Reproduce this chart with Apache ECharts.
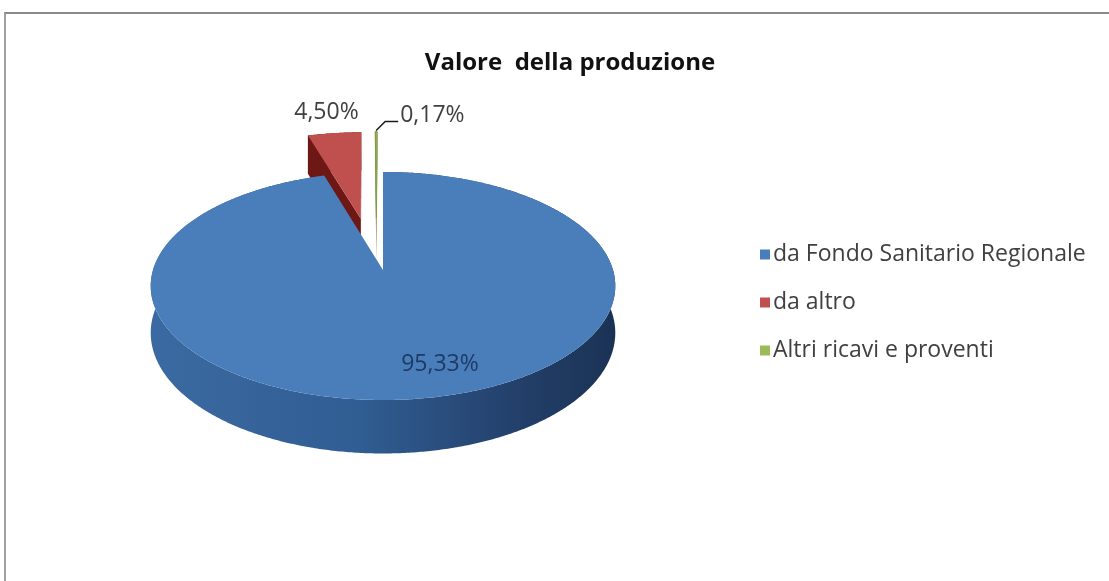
<!DOCTYPE html>
<html>
<head>
<meta charset="utf-8">
<script src="https://cdn.jsdelivr.net/npm/echarts@6/dist/echarts.min.js"></script>
<style>
  html, body { margin: 0; padding: 0; background: #ffffff; overflow: hidden; width: 1109px; height: 581px; }
  #frame {
    position: absolute; left: 4px; top: 12px; width: 1140px; height: 600px;
    border-top: 2px solid #8a8a8a; border-left: 2px solid #a0a0a0;
    box-sizing: border-box;
  }
  #chart { position: absolute; left: 0; top: 0; width: 1130px; height: 581px; }
</style>
</head>
<body>
<div id="frame"></div>
<div id="chart"></div>
<script>
// Revenue split (percent of the production value)
const categories = ['da Fondo Sanitario Regionale', 'da altro', 'Altri ricavi e proventi'];
const shares = [95.33, 4.50, 0.17];
const pulledOut = [false, true, true];

const topColors  = ['#4a7ebb', '#c0504d', '#9bbb59'];
const faceColors = ['#2f5a8e', '#6e1816', '#5f7a2c'];

// 3D pie geometry (screen pixels); angles clockwise from 12 o'clock
const PIE = {
  cx: 383, cy: 270, rx: 230, ry: 111.8,
  persp: 0.14, depth: 46,
  explode: 0.5, explodeTilt: -3.2
};

const total = shares.reduce((a, b) => a + b, 0);
const startAngles = [];
let acc = 0;
shares.forEach(v => { startAngles.push(acc / total * 360); acc += v; });

const rad = d => d * Math.PI / 180;

// project a point of the pie disc (radius r at angle a, plus in-plane offset) to the screen
function project(a, r, off, bottom) {
  const px = r * Math.sin(rad(a)) + off[0];
  const pz = r * Math.cos(rad(a)) + off[1];
  const v = -pz;
  const s = 1 / (1 - PIE.persp * v);
  return [PIE.cx + PIE.rx * px * s, PIE.cy + PIE.ry * v * s + (bottom ? PIE.depth * s : 0)];
}

function signedArea(pts) {
  let s = 0;
  for (let i = 0; i < pts.length; i++) {
    const p = pts[i], q = pts[(i + 1) % pts.length];
    s += p[0] * q[1] - q[0] * p[1];
  }
  return s;
}

const fmt = v => v.toFixed(2).replace('.', ',') + '%';

function renderSlice(params, api) {
  const i = params.seriesIndex;
  const value = api.value(0);
  const a0 = startAngles[i];
  const a1 = a0 + value / total * 360;
  const mid = (a0 + a1) / 2;
  let off = [0, 0];
  if (pulledOut[i]) {
    const d = mid + PIE.explodeTilt;
    off = [PIE.explode * Math.sin(rad(d)), PIE.explode * Math.cos(rad(d))];
  }
  const steps = Math.max(2, Math.ceil((a1 - a0) / 0.5));
  const topArc = [], botArc = [];
  for (let k = 0; k <= steps; k++) {
    const a = a0 + (a1 - a0) * k / steps;
    topArc.push(project(a, 1, off, false));
    botArc.push(project(a, 1, off, true));
  }
  const cTop = project(0, 0, off, false);
  const cBot = project(0, 0, off, true);
  const children = [];

  // outer wall
  children.push({
    type: 'polygon',
    shape: { points: topArc.concat(botArc.slice().reverse()) },
    style: {
      fill: i === 0 ? new echarts.graphic.LinearGradient(0, 0, 1, 0, [
        { offset: 0, color: '#3b6aa2' },
        { offset: 0.45, color: '#305d92' },
        { offset: 0.8, color: '#233f69' },
        { offset: 1, color: '#1a3254' }
      ]) : faceColors[i]
    }
  });

  // radial cut faces, only those turned towards the viewer
  const startFace = [cTop, topArc[0], botArc[0], cBot];
  const endFace = [cTop, topArc[topArc.length - 1], botArc[botArc.length - 1], cBot];
  if (signedArea(startFace) < -1) {
    children.push({ type: 'polygon', shape: { points: startFace }, style: { fill: faceColors[i] } });
  }
  if (signedArea(endFace) > 1) {
    children.push({ type: 'polygon', shape: { points: endFace }, style: { fill: faceColors[i] } });
  }

  // top face
  children.push({
    type: 'polygon',
    shape: { points: [cTop].concat(topArc) },
    style: { fill: topColors[i], stroke: i === 2 ? '#7f9c45' : null, lineWidth: 1 }
  });

  // data label
  const font = '23px "Open Sans", sans-serif';
  if (i === 0) {
    const p = project(mid - 8.6, 0.76, off, false);
    children.push({
      type: 'text', x: p[0], y: p[1] + 4,
      style: { text: fmt(value), font, fill: '#1c3a66', align: 'center', verticalAlign: 'middle' }
    });
  } else if (i === 1) {
    const p = project(mid, 1, off, false);
    children.push({
      type: 'text', x: p[0] - 8, y: p[1] - 21,
      style: { text: fmt(value), font, fill: '#404040', align: 'center', verticalAlign: 'middle' }
    });
  } else {
    const p = project(mid, 1, off, false);
    const knee = [p[0] + 9, p[1] - 10];
    const end = [knee[0] + 13, knee[1]];
    children.push({
      type: 'polyline',
      shape: { points: [[p[0], p[1] - 1], knee, end] },
      style: { stroke: '#1a1a1a', lineWidth: 1.5, fill: null }
    });
    children.push({
      type: 'text', x: end[0] + 2, y: end[1] - 6,
      style: { text: fmt(value), font, fill: '#404040', align: 'left', verticalAlign: 'middle' }
    });
  }
  return { type: 'group', children };
}

const chart = echarts.init(document.getElementById('chart'), null, { renderer: 'canvas' });

chart.setOption({
  animation: false,
  backgroundColor: 'transparent',
  title: {
    text: 'Valore  della produzione',
    left: 565, top: 46, textAlign: 'center',
    textStyle: { fontFamily: 'Open Sans', fontWeight: 'bold', fontSize: 24, color: '#111111' }
  },
  legend: {
    orient: 'vertical',
    left: 755, top: 238,
    icon: 'rect', itemWidth: 10, itemHeight: 10, itemGap: 25,
    data: categories,
    textStyle: { fontFamily: 'Open Sans', fontSize: 23, color: '#404040', padding: [0, 0, 0, -2] }
  },
  series: categories.map((name, i) => ({
    type: 'custom',
    name,
    coordinateSystem: 'none',
    z: i === 0 ? 3 : 2,
    itemStyle: { color: topColors[i] },
    renderItem: renderSlice,
    data: [[shares[i]]]
  }))
});
</script>
</body>
</html>
